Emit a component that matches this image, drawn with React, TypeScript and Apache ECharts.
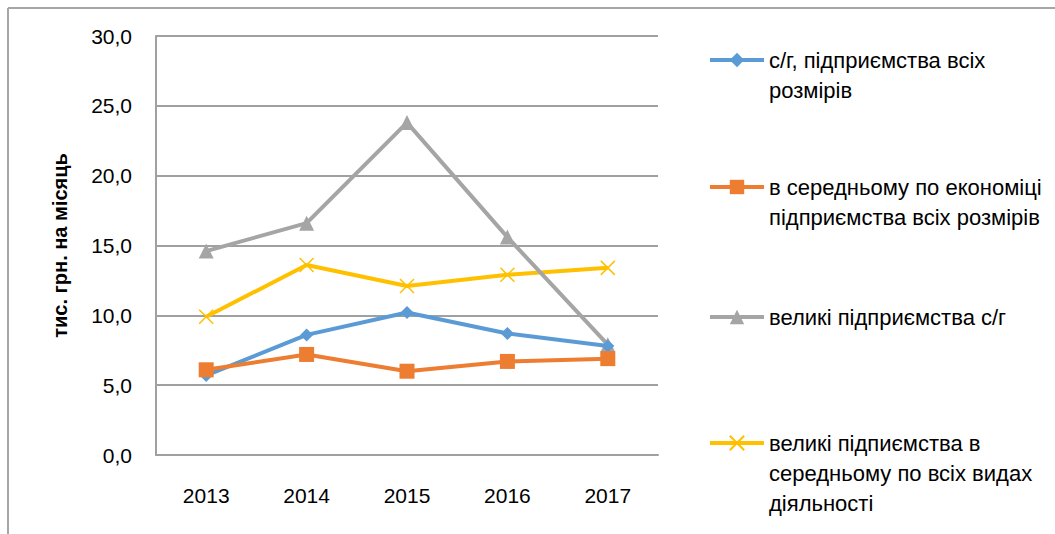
import React, { useEffect, useRef } from "react";
import * as echarts from "echarts";

const years = ["2013", "2014", "2015", "2016", "2017"];
const sgAll = [5.7, 8.6, 10.2, 8.7, 7.8];
const economyAll = [6.1, 7.2, 6.0, 6.7, 6.9];
const sgLarge = [14.6, 16.6, 23.8, 15.6, 7.9];
const largeAllKinds = [9.9, 13.6, 12.1, 12.9, 13.4];

const seriesNames = [
  "с/г, підприємства всіх розмірів",
  "в середньому по економіці підприємства всіх розмірів",
  "великі підприємства с/г",
  "великі підпиємства в середньому по всіх видах діяльності",
];
const legendLines = [
  ["с/г, підприємства всіх", "розмірів"],
  ["в середньому по економіці", "підприємства всіх розмірів"],
  ["великі підприємства с/г"],
  ["великі підпиємства в", "середньому по всіх видах", "діяльності"],
];
const yTitle = "тис. грн. на місяць";

const FONT = "'Liberation Sans', Arial, sans-serif";
const COLORS = ["#5B9BD5", "#ED7D31", "#A5A5A5", "#FFC000"];
const LEGEND_ICON_Y = [60, 187, 317, 443];
const LH = 30;

export default function App() {
  const ref = useRef<HTMLDivElement>(null);
  useEffect(() => {
    if (!ref.current) return;
    const chart = echarts.init(ref.current, null, { renderer: "svg" });
    const dataSets = [sgAll, economyAll, sgLarge, largeAllKinds];
    const symbols = [
      "diamond",
      "rect",
      "triangle",
      "path://M0,0L10,10M10,0L0,10",
    ];
    const symbolSizes = [13, 15, 15, 14];

    const legends = seriesNames.map((name, i) => {
      const lines = legendLines[i];
      // pad with blank lines before so the icon aligns with the first line
      const padded = [...Array(lines.length - 1).fill(""), ...lines];
      const total = padded.length;
      return {
        show: true,
        data: [name],
        left: 708,
        top: LEGEND_ICON_Y[i] - (total * LH) / 2,
        padding: 0,
        itemWidth: 54,
        itemHeight: 18,
        itemGap: 0,
        lineStyle: { width: 4 },
        formatter: () => padded.join("\n"),
        textStyle: {
          fontFamily: FONT,
          fontSize: 22,
          color: "#000",
          lineHeight: LH,
        },
      };
    });

    chart.setOption({
      animation: false,
      backgroundColor: "#fff",
      color: COLORS,
      textStyle: { fontFamily: FONT },
      grid: { left: 156, right: 397, top: 36, bottom: 79, containLabel: false },
      legend: legends,
      graphic: [
        {
          type: "line",
          shape: { x1: 8, y1: 8, x2: 1055, y2: 8 },
          style: { stroke: "#A6A6A6", lineWidth: 2 },
          silent: true,
        },
        {
          type: "line",
          shape: { x1: 8, y1: 8, x2: 8, y2: 534 },
          style: { stroke: "#A6A6A6", lineWidth: 2 },
          silent: true,
        },
      ],
      xAxis: {
        type: "category",
        data: years,
        boundaryGap: true,
        axisLine: { show: true, lineStyle: { color: "#A0A0A0", width: 2 } },
        axisTick: { show: false },
        axisLabel: { fontSize: 21, color: "#000", margin: 30, fontFamily: FONT },
      },
      yAxis: {
        type: "value",
        min: 0,
        max: 30,
        interval: 5,
        name: yTitle,
        nameLocation: "middle",
        nameGap: 86,
        nameRotate: 90,
        nameTextStyle: { fontSize: 20, fontWeight: "bold", color: "#000", fontFamily: FONT },
        axisLine: { show: true, lineStyle: { color: "#A0A0A0", width: 2 } },
        axisTick: { show: false },
        axisLabel: {
          fontSize: 21,
          color: "#000",
          margin: 24,
          fontFamily: FONT,
          formatter: (v: number) => v.toFixed(1).replace(".", ","),
        },
        splitLine: { show: true, lineStyle: { color: "#A0A0A0", width: 2 } },
      },
      series: seriesNames.map((name, i) => ({
        name,
        type: "line",
        data: dataSets[i],
        symbol: symbols[i],
        symbolSize: symbolSizes[i],
        showAllSymbol: true,
        lineStyle: { width: 4, color: COLORS[i] },
        itemStyle:
          i === 3
            ? { color: COLORS[i], borderColor: COLORS[i], borderWidth: 1.5 }
            : { color: COLORS[i], borderWidth: 0 },
        z: [3, 4, 2, 1][i],
      })),
    });
    return () => chart.dispose();
  }, []);
  return (
    <div
      ref={ref}
      style={{ position: "absolute", left: 0, top: 0, width: 1055, height: 534 }}
    />
  );
}
